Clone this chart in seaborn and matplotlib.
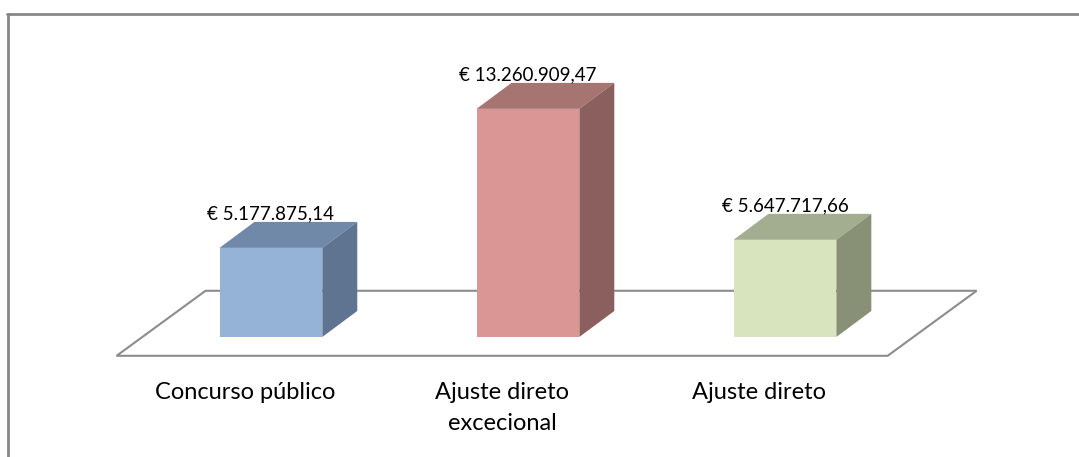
import numpy as np
import pandas as pd
import matplotlib
matplotlib.use("Agg")
import matplotlib.pyplot as plt
from matplotlib.patches import Polygon
import seaborn as sns

categories = ["Concurso público", "Ajuste direto\nexcecional", "Ajuste direto"]
values = [5177875.14, 13260909.47, 5647717.66]
value_labels = ["€ 5.177.875,14", "€ 13.260.909,47", "€ 5.647.717,66"]
front_colors = ["#95B3D7", "#D99694", "#D7E4BD"]
top_colors = ["#7089A9", "#A67471", "#A3AD8F"]
side_colors = ["#5F7491", "#8B5F5D", "#889075"]

df = pd.DataFrame({"cat": categories, "val": values})

sns.set_theme(style="white")
plt.rcParams["font.family"] = ["Lato", "DejaVu Sans"]

fig = plt.figure(figsize=(10.79, 4.57), dpi=100)
ax = fig.add_axes([0, 0, 1, 1])

# depth of the bar (3d effect) and of the floor, in data units
bar_w = 0.40
dx_bar, dy_bar = 0.136, 1.51e6
dx_floor, dy_floor = 0.346, 3.78e6
front_frac = 0.29  # bar front sits this far into the floor depth

sns.barplot(data=df, x="cat", y="val", hue="cat", palette=front_colors,
            width=bar_w, legend=False, saturation=1, linewidth=0, ax=ax, zorder=3)

ax.set_xlim(-1.054, 3.144)
ax.set_ylim(-6.98e6, 19.59e6)
ax.axis("off")

# floor
fx0 = -0.5 - front_frac * dx_floor
fy0 = -front_frac * dy_floor
floor = Polygon([(fx0, fy0), (fx0 + 3, fy0),
                 (fx0 + 3 + dx_floor, fy0 + dy_floor), (fx0 + dx_floor, fy0 + dy_floor)],
                closed=True, facecolor="white", edgecolor="#8C8C8C", lw=1.5, zorder=1)
ax.add_patch(floor)

for i, p in enumerate(ax.patches[:3]):
    x0, w, h = p.get_x(), p.get_width(), p.get_height()
    top = Polygon([(x0, h), (x0 + w, h), (x0 + w + dx_bar, h + dy_bar), (x0 + dx_bar, h + dy_bar)],
                  closed=True, facecolor=top_colors[i], edgecolor="none", zorder=3)
    side = Polygon([(x0 + w, 0), (x0 + w + dx_bar, dy_bar), (x0 + w + dx_bar, h + dy_bar), (x0 + w, h)],
                   closed=True, facecolor=side_colors[i], edgecolor="none", zorder=3)
    ax.add_patch(top)
    ax.add_patch(side)
    ax.text(x0 + w / 2, h + dy_bar + 0.45e6, value_labels[i], ha="center", va="center",
            fontsize=13.5, color="#000000", zorder=4)

for i, c in enumerate(categories):
    ax.text(i - front_frac * dx_floor, fy0 - 1.55e6, c, ha="center", va="top",
            fontsize=17, color="#000000", linespacing=1.55)

# chart area border (top and left visible)
fig.add_artist(plt.Line2D([7 / 1079, 1], [1 - 13.5 / 457, 1 - 13.5 / 457], color="#878787", lw=2))
fig.add_artist(plt.Line2D([7.5 / 1079, 7.5 / 1079], [0, 1 - 13.5 / 457], color="#878787", lw=2))

fig.savefig("out.png", dpi=100, facecolor="white")
